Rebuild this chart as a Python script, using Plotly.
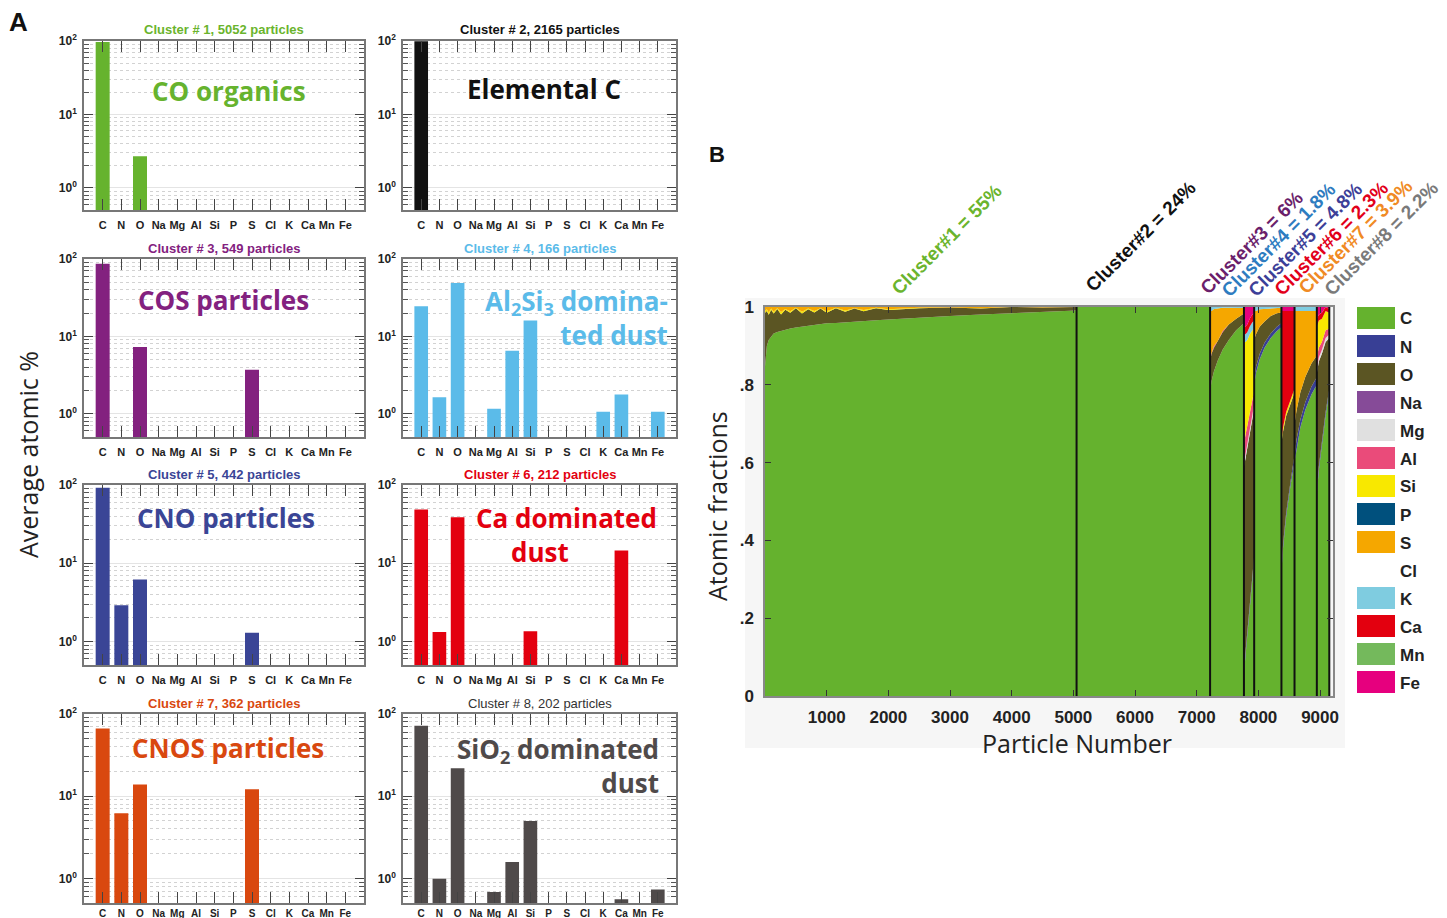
import numpy as np
import plotly.graph_objects as go

# ---------------------------------------------------------------- data
elements = ["C", "N", "O", "Na", "Mg", "Al", "Si", "P", "S", "Cl", "K", "Ca", "Mn", "Fe"]

cluster_counts = [5052, 2165, 549, 166, 442, 212, 362, 202]
cluster_share = ["55%", "24%", "6%", "1.8%", "4.8%", "2.3%", "3.9%", "2.2%"]

# average atomic % per element for each cluster (None = not detected)
pct_cluster1 = [97, None, 2.7, None, None, None, None, None, None, None, None, None, None, None]
pct_cluster2 = [99, None, None, None, None, None, None, None, None, None, None, None, None, None]
pct_cluster3 = [87, None, 7.3, None, None, None, None, None, 3.7, None, None, None, None, None]
pct_cluster4 = [24.5, 1.63, 49, None, 1.16, 6.5, 16, None, None, None, 1.06, 1.78, None, 1.06]
pct_cluster5 = [92, 2.9, 6.2, None, None, None, None, None, 1.29, None, None, None, None, None]
pct_cluster6 = [48.6, 1.32, 38.6, None, None, None, 1.35, None, None, None, None, 14.6, None, None]
pct_cluster7 = [66.8, 6.2, 13.9, None, None, None, None, None, 12.1, None, None, None, None, None]
pct_cluster8 = [71.8, 0.99, 21.9, None, 0.68, 1.58, 4.98, None, None, None, None, 0.555, None, 0.73]

# particle-resolved atomic fractions, sampled along the sorted particle axis
particle_no = (
    [0, 30, 60, 100, 140, 200, 260, 330, 410, 500, 600, 700, 800, 900, 1000, 1150, 1300,
     1450, 1600, 1800, 2000, 2500, 3000, 3500, 4000, 4500, 5052]          # cluster 1
    + [5052, 7217]                                                         # cluster 2
    + [7217, 7240, 7280, 7340, 7420, 7520, 7640, 7766]                     # cluster 3
    + [7766, 7790, 7820, 7860, 7900, 7932]                                 # cluster 4
    + [7932, 7960, 8020, 8100, 8200, 8300, 8374]                           # cluster 5
    + [8374, 8400, 8450, 8520, 8586]                                       # cluster 6
    + [8586, 8620, 8680, 8760, 8860, 8948]                                 # cluster 7
    + [8948, 8980, 9030, 9090, 9150]                                       # cluster 8
)

frac_C = (
    [0.847, 0.900, 0.915, 0.925, 0.932, 0.936, 0.939, 0.942, 0.945, 0.947, 0.949, 0.951, 0.953,
     0.955, 0.958, 0.959, 0.961, 0.963, 0.964, 0.966, 0.968, 0.973, 0.977, 0.981, 0.984, 0.987, 0.991]
    + [1.0, 1.0]
    + [0.780, 0.810, 0.835, 0.862, 0.890, 0.915, 0.940, 0.958]
    + [0.060, 0.100, 0.160, 0.230, 0.300, 0.350]
    + [0.800, 0.830, 0.865, 0.895, 0.920, 0.938, 0.948]
    + [0.320, 0.380, 0.460, 0.540, 0.600]
    + [0.600, 0.640, 0.690, 0.735, 0.775, 0.800]
    + [0.520, 0.580, 0.650, 0.720, 0.780]
)
frac_N = (
    [0] * 27 + [0, 0] + [0] * 8
    + [0.010, 0.010, 0.010, 0.010, 0.010, 0.010]
    + [0.015, 0.015, 0.014, 0.013, 0.012, 0.011, 0.010]
    + [0.010, 0.010, 0.010, 0.010, 0.010]
    + [0.020, 0.020, 0.020, 0.020, 0.020, 0.020]
    + [0.010, 0.010, 0.010, 0.010, 0.010]
)
frac_O = (
    [0.138, 0.090, 0.065, 0.068, 0.051, 0.059, 0.042, 0.051, 0.040, 0.050, 0.034, 0.043, 0.033,
     0.041, 0.027, 0.038, 0.027, 0.033, 0.025, 0.031, 0.024, 0.024, 0.022, 0.015, 0.016, 0.012, 0.009]
    + [0, 0]
    + [0.080, 0.070, 0.060, 0.050, 0.045, 0.040, 0.030, 0.025]
    + [0.520, 0.500, 0.470, 0.440, 0.400, 0.380]
    + [0.100, 0.085, 0.070, 0.055, 0.045, 0.035, 0.028]
    + [0.320, 0.290, 0.250, 0.200, 0.170]
    + [0.080, 0.075, 0.070, 0.065, 0.060, 0.055]
    + [0.300, 0.270, 0.220, 0.180, 0.130]
)
frac_Mg = (
    [0] * 27 + [0, 0] + [0] * 8
    + [0.010, 0.010, 0.010, 0.010, 0.010, 0.010]
    + [0] * 7 + [0] * 5 + [0] * 6
    + [0.010, 0.010, 0.010, 0.010, 0.010]
)
frac_Al = (
    [0] * 27 + [0, 0]
    + [0.010, 0.000, 0.005, 0.000, 0.003, 0.000, 0.000, 0.000]
    + [0.050, 0.050, 0.045, 0.040, 0.040, 0.035]
    + [0.005, 0, 0, 0, 0, 0, 0]
    + [0] * 5 + [0] * 6
    + [0.030, 0.025, 0.020, 0.020, 0.015]
)
frac_Si = (
    [0.005, 0.004, 0.006, 0.003, 0.005, 0.002, 0.006, 0.002, 0.004, 0.001, 0.005, 0.002, 0.004,
     0.001, 0.004, 0.001, 0.003, 0.001, 0.003, 0.001, 0.002, 0.001, 0.000, 0.001, 0.000, 0.000, 0.000]
    + [0, 0] + [0] * 8
    + [0.260, 0.240, 0.220, 0.200, 0.180, 0.160]
    + [0] * 7
    + [0.010, 0.010, 0.010, 0.010, 0.010]
    + [0] * 6
    + [0.080, 0.070, 0.060, 0.050, 0.040]
)
frac_S = (
    [0.010, 0.006, 0.014, 0.004, 0.012, 0.003, 0.013, 0.005, 0.011, 0.002, 0.012, 0.004, 0.010,
     0.003, 0.011, 0.002, 0.009, 0.003, 0.008, 0.002, 0.006, 0.002, 0.001, 0.003, 0.000, 0.001, 0.000]
    + [0, 0]
    + [0.120, 0.110, 0.095, 0.085, 0.060, 0.043, 0.029, 0.016]
    + [0] * 6
    + [0.070, 0.060, 0.045, 0.032, 0.020, 0.014, 0.012]
    + [0] * 5
    + [0.290, 0.255, 0.210, 0.170, 0.135, 0.115]
    + [0] * 5
)
frac_K = (
    [0] * 27 + [0, 0]
    + [0.010, 0.010, 0.005, 0.003, 0.002, 0.002, 0.001, 0.001]
    + [0.020, 0.020, 0.020, 0.020, 0.020, 0.020]
    + [0.010, 0.010, 0.006, 0.005, 0.003, 0.002, 0.002]
    + [0] * 5
    + [0.010, 0.010, 0.010, 0.010, 0.010, 0.010]
    + [0] * 5
)
frac_Ca = (
    [0] * 27 + [0, 0] + [0] * 8
    + [0.020, 0.020, 0.020, 0.020, 0.020, 0.020]
    + [0] * 7
    + [0.330, 0.300, 0.260, 0.230, 0.200]
    + [0] * 6
    + [0.020, 0.015, 0.015, 0.010, 0.010]
)
frac_Fe = (
    [0] * 27 + [0, 0] + [0] * 8
    + [0.050, 0.050, 0.045, 0.030, 0.020, 0.015]
    + [0] * 7
    + [0.010, 0.010, 0.010, 0.010, 0.010]
    + [0] * 6
    + [0.030, 0.020, 0.015, 0.010, 0.005]
)

# ---------------------------------------------------------------- style
W, H = 1447, 918
elem_colors = ["#65b22e", "#383f95", "#5b5523", "#864b98", "#e0e0e0", "#ea4b7a", "#f8e800",
               "#00507d", "#f5a700", None, "#7fcce0", "#e3000f", "#74b95c", "#e6007e"]
bar_colors = ["#66b32e", "#111111", "#83217f", "#5bbbe9", "#3a4596", "#e3000f", "#d9480f", "#4f4a4a"]
share_colors = ["#6ab42d", "#111111", "#6b1f6b", "#2e7cc0", "#3d3f98", "#e2001a", "#f08a24", "#7a7a7a"]
title_colors = ["#6ab42d", "#111111", "#83217f", "#5bbbe9", "#3a4596", "#e3000f", "#d9480f", "#333333"]

SANS = "Liberation Sans, Arial, sans-serif"
BIG = "Open Sans, sans-serif"


def px(x):
    return x / W


def py(y):
    return 1 - y / H


fig = go.Figure()

# ---------------------------------------------------------------- panel A
pct_all = [pct_cluster1, pct_cluster2, pct_cluster3, pct_cluster4,
           pct_cluster5, pct_cluster6, pct_cluster7, pct_cluster8]
col_x = [(84, 364), (403, 676)]
row_y = [(41, 210), (259, 437), (485, 665), (714, 903)]
minor_vals = [0.6, 0.7, 0.8, 0.9, 2, 3, 4, 5, 6, 7, 8, 9, 20, 30, 40, 50, 60, 70, 80, 90]

layout_axes = {}
annotations = []
for i, vals in enumerate(pct_all):
    r, c = divmod(i, 2)
    x0, x1 = col_x[c]
    y0, y1 = row_y[r]
    n = i + 1
    last_row = r == len(row_y) - 1
    fig.add_trace(go.Bar(
        x=list(range(len(elements))), y=vals, width=0.75,
        marker=dict(color=bar_colors[i], line=dict(width=0)),
        xaxis=f"x{n}", yaxis=f"y{n}", showlegend=False, hoverinfo="skip"))
    layout_axes[f"xaxis{n}"] = dict(
        domain=[px(x0), px(x1)], anchor=f"y{n}", range=[-1, 14], automargin=False,
        tickmode="array", tickvals=list(range(len(elements))), ticktext=elements,
        ticks="inside", ticklen=11, tickwidth=1.3, tickcolor="#444",
        showline=True, linecolor="#777", linewidth=1.5, mirror="allticks",
        showgrid=False, zeroline=False, ticklabelstandoff=0 if last_row else 4,
        tickfont=dict(family=SANS, size=10 if last_row else 11, color="#222", weight="bold"))
    layout_axes[f"yaxis{n}"] = dict(
        domain=[py(y1), py(y0)], anchor=f"x{n}", type="log", range=[-0.3, 2], automargin=False,
        tickmode="array", tickvals=[1, 10, 100],
        ticktext=["10<sup>0</sup>", "10<sup>1</sup>", "10<sup>2</sup>"],
        ticks="inside", ticklen=9, tickwidth=1.3, tickcolor="#444",
        showline=True, linecolor="#777", linewidth=1.5, mirror="allticks",
        showgrid=True, gridcolor="#e4e4e4", gridwidth=1.2, zeroline=False,
        ticklabelstandoff=3,
        tickfont=dict(family=SANS, size=12, color="#222", weight="bold"),
        minor=dict(tickmode="array", tickvals=minor_vals, ticks="inside", ticklen=5,
                   tickcolor="#555", showgrid=True, griddash="dot", gridcolor="#d2d2d2"))
    annotations.append(dict(
        x=px((x0 + x1) / 2), y=py(y0 - 11), xref="paper", yref="paper",
        text=f"Cluster # {n}, {cluster_counts[i]} particles", showarrow=False,
        font=dict(family=SANS, size=13, color=title_colors[i],
                  weight="normal" if n == 8 else "bold"),
        xanchor="center", yanchor="middle"))

# descriptive names inside the bar panels: (text, x, y, xanchor, cluster index)
panel_names = [
    ("CO organics", 229, 91, "center", 0),
    ("Elemental C", 544, 89, "center", 1),
    ("COS particles", 223, 300, "center", 2),
    ("Al<sub>2</sub>Si<sub>3</sub> domina-<br>ted dust", 670, 318, "right", 3),
    ("CNO particles", 226, 518, "center", 4),
    ("Ca dominated", 566, 518, "center", 5),
    ("dust", 540, 552, "center", 5),
    ("CNOS particles", 228, 748, "center", 6),
    ("SiO<sub>2</sub> dominated<br>dust", 661, 766, "right", 7),
]
for text, x, y, xa, ci in panel_names:
    annotations.append(dict(
        x=px(x), y=py(y), xref="paper", yref="paper", text=text, showarrow=False,
        xanchor=xa, yanchor="middle", align=xa if xa != "center" else "center",
        font=dict(family=BIG, size=26, color=bar_colors[ci], weight="bold")))

# ---------------------------------------------------------------- panel B
fractions = {"C": frac_C, "N": frac_N, "O": frac_O, "Mg": frac_Mg, "Al": frac_Al,
             "Si": frac_Si, "S": frac_S, "K": frac_K, "Ca": frac_Ca, "Fe": frac_Fe}
cum = np.zeros(len(particle_no))
first = True
for k, el in enumerate(elements):
    if el not in fractions:
        continue
    cum = cum + np.asarray(fractions[el], dtype=float)
    fig.add_trace(go.Scatter(
        x=particle_no, y=cum.copy(), mode="lines", line=dict(width=0, color=elem_colors[k]),
        fill="tozeroy" if first else "tonexty", fillcolor=elem_colors[k],
        xaxis="x9", yaxis="y9", showlegend=False, hoverinfo="skip"))
    first = False

# cluster boundaries
for b in np.cumsum(cluster_counts):
    fig.add_trace(go.Scatter(
        x=[b, b], y=[0, 1], mode="lines", line=dict(color="#111111", width=2),
        xaxis="x9", yaxis="y9", showlegend=False, hoverinfo="skip"))

layout_axes["xaxis9"] = dict(
    domain=[px(765), px(1333)], anchor="y9", range=[0, 9210], automargin=False,
    tickmode="array", tickvals=[1000, 2000, 3000, 4000, 5000, 6000, 7000, 8000, 9000],
    ticks="inside", ticklen=6, tickcolor="#333", tickwidth=1.2,
    showline=True, linecolor="#888", linewidth=1.5, mirror="allticks",
    showgrid=False, zeroline=False, ticklabelstandoff=5,
    tickfont=dict(family=SANS, size=17, color="#222", weight="bold"))
layout_axes["yaxis9"] = dict(
    domain=[py(696), py(307)], anchor="x9", range=[0, 1], automargin=False,
    tickmode="array", tickvals=[0, 0.2, 0.4, 0.6, 0.8, 1],
    ticktext=["0", ".2", ".4", ".6", ".8", "1"],
    ticks="inside", ticklen=6, tickcolor="#333", tickwidth=1.2,
    showline=True, linecolor="#888", linewidth=1.5, mirror="allticks",
    showgrid=False, zeroline=False, ticklabelstandoff=6,
    tickfont=dict(family=SANS, size=17, color="#222", weight="bold"))

# cluster share labels above the fraction plot
share_pos = [(947, 240), (1141, 237), (1252, 243), (1279, 240), (1305, 239),
             (1331, 238), (1356, 237), (1381, 238)]
for i, (x, y) in enumerate(share_pos):
    annotations.append(dict(
        x=px(x), y=py(y), xref="paper", yref="paper",
        text=f"Cluster#{i + 1} = {cluster_share[i]}", showarrow=False, textangle=-45,
        xanchor="center", yanchor="middle",
        font=dict(family=SANS, size=19, color=share_colors[i], weight="bold")))

# element key
shapes = [dict(type="rect", xref="paper", yref="paper", x0=px(745), x1=px(1345),
               y0=py(748), y1=py(298), fillcolor="#f6f6f6", line=dict(width=0), layer="below")]
for k, el in enumerate(elements):
    yc = 318 + 28 * k
    if elem_colors[k] is not None:
        shapes.append(dict(type="rect", xref="paper", yref="paper",
                           x0=px(1357), x1=px(1395), y0=py(yc + 11), y1=py(yc - 11),
                           fillcolor=elem_colors[k], line=dict(width=0)))
    annotations.append(dict(
        x=px(1398), y=py(yc + 1), xref="paper", yref="paper", text=el, showarrow=False,
        xanchor="left", yanchor="middle",
        font=dict(family=SANS, size=17, color="#222", weight="bold")))

# axis titles and panel letters
annotations += [
    dict(x=px(18), y=py(22), text="A", font=dict(family=SANS, size=26, color="#111", weight="bold")),
    dict(x=px(717), y=py(154), text="B", font=dict(family=SANS, size=22, color="#111", weight="bold")),
    dict(x=px(28), y=py(455), text="Average atomic %", textangle=-90,
         font=dict(family=BIG, size=25, color="#222")),
    dict(x=px(717), y=py(506), text="Atomic fractions", textangle=-90,
         font=dict(family=BIG, size=25, color="#222")),
    dict(x=px(1077), y=py(743), text="Particle Number",
         font=dict(family=BIG, size=25, color="#222")),
]
for a in annotations[-5:]:
    a.update(xref="paper", yref="paper", showarrow=False, xanchor="center", yanchor="middle")

fig.update_layout(
    width=W, height=H, margin=dict(l=0, r=0, t=0, b=0, pad=0, autoexpand=False),
    paper_bgcolor="white", plot_bgcolor="white", showlegend=False,
    barmode="overlay", annotations=annotations, shapes=shapes, **layout_axes)

fig.write_html("out.html")
